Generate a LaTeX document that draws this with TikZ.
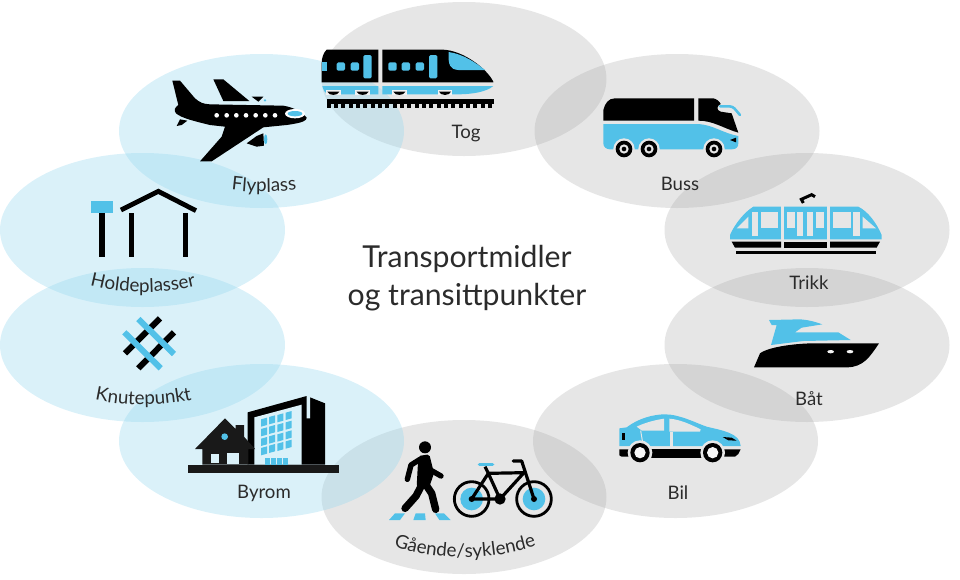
\documentclass[tikz,border=0pt]{standalone}
\usepackage{fontspec}
\setmainfont{Lato}
\usepackage{xcolor}
\usetikzlibrary{decorations.text}
\definecolor{iconblue}{HTML}{52C1E8}
\definecolor{blobgray}{RGB}{166,166,166}
\definecolor{blobblue}{RGB}{149,215,238}
\definecolor{bggray}{HTML}{E6E6E6}
\definecolor{bgblue}{HTML}{DAF1F9}
\definecolor{labeltext}{HTML}{2B2B2B}
\tikzset{
  grayblob/.style={fill=blobgray,fill opacity=.28},
  blueblob/.style={fill=blobblue,fill opacity=.35},
  lbl/.style={text=labeltext,font=\fontsize{18.6}{22}\selectfont},
  curved/.style={decorate,decoration={text along path,text align=center,
    text={|\fontsize{18.8}{22}\selectfont\color{labeltext}|#1}}},
  ink/.style={fill=black},
  sky/.style={fill=iconblue}
}
\begin{document}
\begin{tikzpicture}[x=1pt,y=-1pt]
\useasboundingbox (0,0) rectangle (960,579);

% blobs
\fill[grayblob] (464,79) ellipse (142.5 and 77);
\fill[grayblob] (677,131) ellipse (142.5 and 77);
\fill[grayblob] (807,230) ellipse (142.5 and 77);
\fill[grayblob] (807,345) ellipse (142.5 and 77);
\fill[grayblob] (675.5,441) ellipse (142.5 and 77);
\fill[grayblob] (464,497) ellipse (142.5 and 77);
\fill[blueblob] (261.5,131) ellipse (142.5 and 77);
\fill[blueblob] (142.5,230) ellipse (142.5 and 77);
\fill[blueblob] (142.5,345) ellipse (142.5 and 77);
\fill[blueblob] (261.5,441) ellipse (142.5 and 77);

% train
\begin{scope}[shift={(110,30)},scale=1/3]
  \fill[ink] (650,59) .. controls (640,68) and (635,85) .. (635,100) -- (635,157) -- (805,157) -- (805,59) -- cycle;
  \fill[ink] (817,59) -- (1000,59) .. controls (1060,62) and (1130,115) .. (1150,155) -- (1150,157) -- (817,157) -- cycle;
  \fill[sky] (1016,66) .. controls (1060,72) and (1100,100) .. (1125,120) -- (1045,120) .. controls (1020,118) and (1014,105) .. (1016,66) -- cycle;
  \foreach \xx in {680,722,835,875,917} \fill[sky,rounded corners=1.5pt] (\xx,97) rectangle (\xx+25,122);
  \fill[sky] (635,97) -- (650,97) -- (650,122) -- (635,122) -- cycle;
  \foreach \xx in {760,957} \fill[sky,rounded corners=1.5pt] (\xx,75) rectangle (\xx+25,145);
  \fill[sky] (637,168) -- (805,168) -- (805,193) -- (655,193) .. controls (645,190) and (640,180) .. (637,168) -- cycle;
  \fill[sky] (817,168) -- (1150,168) .. controls (1130,185) and (1090,193) .. (1040,193) -- (817,193) -- cycle;
  \foreach \xx in {670,758,868,1005} {
    \fill[white!50!bggray] (\xx-22,180) rectangle (\xx+22,196);
    \fill[ink] (\xx-18,185) -- (\xx+18,185) .. controls (\xx+14,198) and (\xx-14,198) .. (\xx-18,185) -- cycle;
  }
  \fill[ink] (650,208) rectangle (1151,221);
  \foreach \xx in {650,672,...,1140} \fill[ink] (\xx,221) rectangle (\xx+12,235);
\end{scope}

% plane
\begin{scope}[shift={(110,30)},scale=1/3]
  \fill[ink] (187,152) -- (210,152) -- (255,205) .. controls (270,218) and (280,222) .. (300,223) -- (520,227)
    .. controls (550,232) and (575,245) .. (590,263) .. controls (590,272) and (580,278) .. (530,285)
    -- (460,292) -- (305,394) -- (270,394) -- (335,320) -- (345,290) -- (300,285)
    .. controls (260,275) and (215,265) .. (198,250) .. controls (190,240) and (195,232) .. (205,225) -- cycle;
  \fill[ink] (310,148) -- (340,148) -- (418,213) -- (340,213) -- cycle;
  \fill[ink] (425,200) -- (460,200) -- (445,215) -- cycle;
  \fill[sky] (465,211) circle (4);
  \fill[ink] (210,268) -- (232,272) -- (215,285) -- (200,288) -- cycle;
  \fill[ink] (410,340) -- (440,318) -- (460,310) -- (462,347) -- (440,350) -- cycle;
  \fill[sky] (467,328) ellipse (5 and 15);
  \foreach \xx in {320,350,379,408,437,466,495} \fill[white] (\xx,256) circle (7);
  \fill[white] (555,251) ellipse (30 and 14);
  \fill[sky] (555,251) ellipse (22 and 8);
\end{scope}

% bus
\begin{scope}[shift={(590,80)},scale=1/3]
  \fill[ink] (40,122) -- (40,90) .. controls (45,70) and (55,55) .. (75,55) -- (312,55) -- (312,122) -- cycle;
  \fill[ink] (325,55) -- (370,55) .. controls (380,57) and (390,65) .. (392,72) .. controls (380,78) and (378,90) .. (392,95) -- (425,100) -- (445,158) .. controls (400,145) and (370,122) .. (325,122) -- cycle;
  \fill[sky] (40,132) -- (325,132) .. controls (370,135) and (400,160) .. (445,168) -- (445,190) .. controls (445,200) and (440,208) .. (425,208) -- (60,208) .. controls (48,208) and (40,200) .. (40,190) -- cycle;
  \draw[iconblue,line width=2.6pt,line cap=round,rounded corners=3pt] (390,79) -- (428,79) -- (450,105);
  \fill[ink] (420,180) -- (438,173) -- (438,187) -- cycle;
  \foreach \xx in {102,177,372} {
    \fill[bggray] (\xx,207) circle (32);
    \fill[ink] (\xx,207) circle (25);
    \fill[bggray] (\xx,207) circle (14);
    \fill[ink] (\xx,207) circle (7);
  }
\end{scope}

% tram
\begin{scope}[shift={(590,80)},scale=1/3]
  \fill[sky] (420,478) -- (420,465) .. controls (435,430) and (465,395) .. (490,380) -- (805,380) .. controls (835,395) and (860,430) .. (875,465) -- (875,478) -- cycle;
  \fill[bggray] (574,378) rectangle (582,480);
  \fill[bggray] (712,378) rectangle (720,480);
  \fill[bggray] (440,445) -- (475,410) -- (475,445) -- cycle;
  \fill[bggray] (485,395) rectangle (505,468);
  \fill[bggray] (513,395) rectangle (565,445);
  \fill[bggray] (590,395) rectangle (615,445);
  \fill[bggray] (622,395) rectangle (640,468);
  \fill[bggray] (650,395) rectangle (670,468);
  \fill[bggray] (678,395) rectangle (703,445);
  \fill[bggray] (730,395) rectangle (782,445);
  \fill[bggray] (790,395) rectangle (810,468);
  \fill[bggray] (818,410) -- (858,445) -- (818,445) -- cycle;
  \fill[ink] (425,485) -- (573,485) -- (573,503) -- (435,503) -- cycle;
  \fill[ink] (582,485) rectangle (712,503);
  \fill[ink] (720,485) -- (870,485) -- (860,503) -- (720,503) -- cycle;
  \fill[ink] (438,512) rectangle (857,521);
  \draw[line width=3pt] (640,369) -- (634,358) -- (665,344) -- (675,350);
\end{scope}

% boat
\begin{scope}[shift={(600,310)},scale=1/3]
  \fill[sky] (507,30) -- (600,28) .. controls (630,30) and (650,37) .. (667,43) -- (605,53) -- (585,67) -- (715,67) -- (752,90) -- (610,93) -- (513,105) -- (530,45) -- (515,45) -- cycle;
  \fill[ink] (480,130) .. controls (510,108) and (600,100) .. (640,100) -- (837,100) .. controls (810,140) and (790,172) .. (740,172) -- (462,172) -- cycle;
  \fill[white!50!bggray] (692,125) ellipse (10 and 5);
  \fill[white!50!bggray] (750,125) ellipse (10 and 5);
\end{scope}

% car
\begin{scope}[shift={(600,310)},scale=1/3]
  \fill[sky] (58,408) -- (58,355) -- (80,352) .. controls (115,325) and (160,313) .. (195,313)
    .. controls (240,313) and (290,340) .. (320,350) .. controls (370,362) and (420,370) .. (422,408) -- cycle;
  \fill[bggray] (110,350) .. controls (135,338) and (165,330) .. (192,326) -- (192,362) -- (126,362) -- cycle;
  \fill[bggray] (208,326) .. controls (240,328) and (275,345) .. (302,358) -- (300,365) -- (208,365) -- cycle;
  \draw[bggray,line width=1pt] (122,362) -- (130,410);
  \draw[bggray,line width=3pt] (213,365) -- (213,410);
  \fill[ink] (65,368) -- (75,368) -- (75,390) -- (65,390) -- cycle;
  \fill[ink] (368,381) -- (395,383) -- (410,392) -- (385,391) -- cycle;
  \fill[ink] (58,418) -- (95,418) -- (95,440) -- (65,440) -- (58,436) -- cycle;
  \fill[ink] (150,418) rectangle (305,443);
  \fill[ink] (370,418) -- (422,418) -- (415,432) -- (405,440) -- (370,440) -- cycle;
  \foreach \xx in {120,338} {
    \fill[bggray] (\xx,428) circle (37);
    \fill[ink] (\xx,428) circle (29);
    \fill[white!60!bggray] (\xx,428) circle (17);
  }
\end{scope}

% walker and bike
\begin{scope}[shift={(370,430)},scale=1/3]
  \fill[ink] (165,52) circle (18);
  \fill[ink,rounded corners=2pt] (145,78) -- (178,73) -- (192,130) -- (178,170) -- (140,170) -- cycle;
  \draw[line width=5.4pt,line cap=round,line join=round] (150,88) -- (123,105) -- (112,148);
  \draw[line width=5.4pt,line cap=round] (178,118) -- (213,138);
  \draw[line width=7.4pt,line cap=round,line join=round] (158,160) -- (138,198) -- (105,235);
  \draw[line width=7.4pt,line cap=round,line join=round] (165,160) -- (185,190) -- (197,238);
  \fill[sky] (75,250) -- (105,250) -- (90,270) -- (57,270) -- cycle;
  \fill[sky] (137,250) -- (165,250) -- (167,270) -- (130,270) -- cycle;
  \fill[sky] (195,250) -- (222,250) -- (242,270) -- (208,270) -- cycle;
  \foreach \xx in {305,492} {
    \draw[line width=2.8pt] (\xx,207) circle (52);
    \fill[sky] (\xx,207) circle (34);
  }
  \draw[line width=3.2pt,line join=round] (305,207) -- (355,130) -- (390,207) -- (305,207);
  \draw[line width=3.2pt,line join=round] (390,207) -- (462,128) -- (355,130);
  \draw[line width=3.2pt,line cap=round,line join=round] (430,93) -- (455,93) -- (492,207);
  \draw[line width=3.2pt] (345,110) -- (355,130);
  \draw[iconblue,line width=3.2pt,line cap=round] (328,103) -- (368,103);
  \fill[ink] (390,207) circle (17);
  \fill[ink] (305,207) circle (9);
  \fill[ink] (492,207) circle (9);
\end{scope}

% square with house
\begin{scope}[shift={(170,380)},scale=1/3]
  \fill[ink] (233,97) -- (410,48) -- (465,70) -- (465,254) -- (233,254) -- cycle;
  \fill[bgblue] (253,112) -- (395,74) -- (395,254) -- (253,254) -- cycle;
  \fill[bgblue] (410,46) -- (420,50) -- (420,115) -- (410,115) -- cycle;
  \foreach \xx/\yy in {273/118,297/111,322/105,347/98} {
    \foreach \rr in {0,29,58,86} {
      \fill[sky] (\xx,\yy+\rr) -- (\xx+18,\yy+\rr-5) -- (\xx+18,\yy+\rr+17) -- (\xx,\yy+\rr+22) -- cycle;
    }
  }
  \foreach \xx in {285,302,320,338} \fill[sky] (\xx,233) rectangle (\xx+15,254);
  \fill[black!90] (75,207) -- (165,115) -- (197,147) -- (197,135) -- (222,135) -- (222,170) -- (255,207) -- (235,207) -- (235,254) -- (97,254) -- (97,207) -- cycle;
  \fill[bgblue] (122,222) rectangle (147,248);
  \fill[bgblue] (172,218) rectangle (207,252);
  \fill[sky] (164,170) circle (10);
  \fill[black!90] (55,254) rectangle (508,280);
\end{scope}

% stop
\begin{scope}[shift={(70,180)},scale=1/3]
  \fill[sky] (63,62) rectangle (128,100);
  \fill[ink] (88,100) rectangle (104,230);
  \fill[ink] (178,100) rectangle (193,230);
  \fill[ink] (339,100) rectangle (355,230);
  \draw[line width=4.8pt] (153,90) -- (265,34) -- (378,92);
\end{scope}

% hub
\begin{scope}[shift={(70,180)},scale=1/3]
  \draw[line width=6pt] (165,520) -- (270,415);
  \draw[line width=6pt] (205,565) -- (312,457);
  \draw[iconblue,line width=6pt] (205,417) -- (312,522);
  \draw[iconblue,line width=6pt] (163,457) -- (272,565);
\end{scope}

% labels
\draw (467,278) node[text=labeltext,align=center,font=\fontsize{30.2}{38}\selectfont] (title) {Transportmidler\\og transittpunkter};
\draw (466,134) node[lbl] (tog) {Tog};
\draw (680,184) node[lbl] (buss) {Buss};
\draw (809,283) node[lbl] (trikk) {Trikk};
\draw (809,399) node[lbl] (baat) {Båt};
\draw (678,493) node[lbl] (bil) {Bil};
\draw (264,493) node[lbl] (byrom) {Byrom};
\path[curved={Flyplass}] (225,189) .. controls (250,193) and (278,193) .. (303,189);
\path[curved={Holdeplasser}] (82,283) .. controls (120,295) and (165,295) .. (204,284);
\path[curved={Knutepunkt}] (88,398) .. controls (120,407) and (165,407) .. (199,398);
\path[curved={Gående/syklende}] (386,543) .. controls (430,562) and (495,562) .. (544,543);
\end{tikzpicture}
\end{document}
